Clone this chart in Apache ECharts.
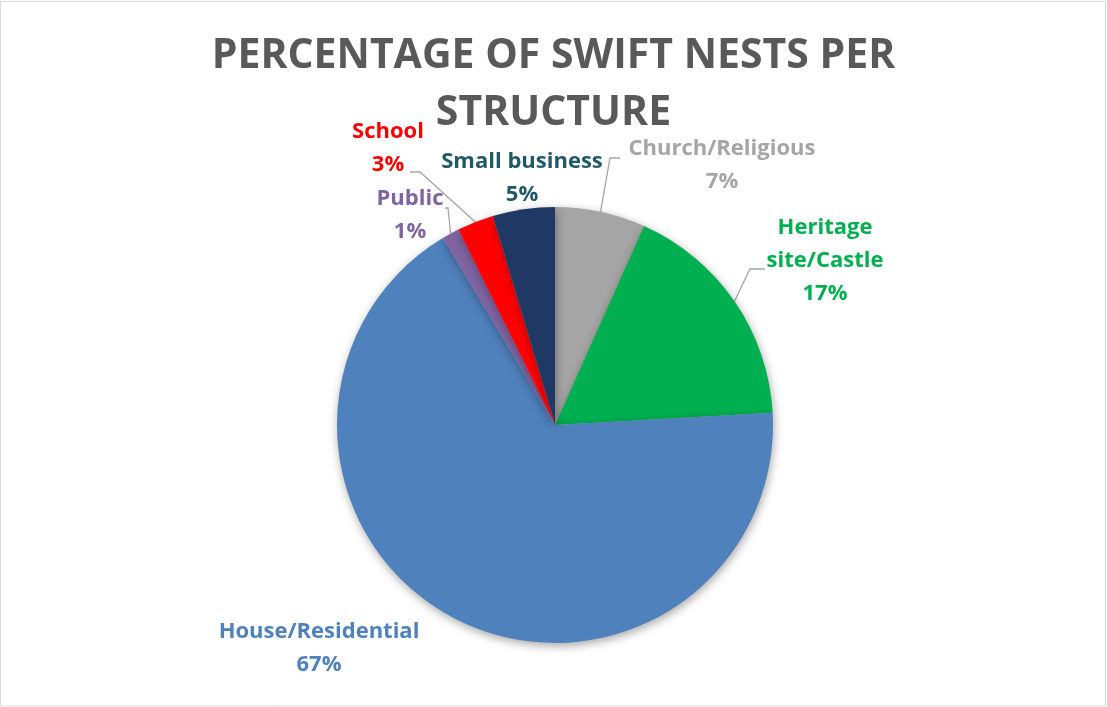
<!DOCTYPE html>
<html>
<head>
<meta charset="utf-8">
<script src="https://cdn.jsdelivr.net/npm/echarts@6/dist/echarts.min.js"></script>
<style>html,body{margin:0;padding:0;background:#fff;}#c{width:1107px;height:707px;}</style>
</head>
<body>
<div id="c"></div>
<script>
const categories = ['Church/Religious', 'Heritage site/Castle', 'House/Residential', 'Public', 'School', 'Small business'];
const values = [6.7, 17.4, 67.3, 1.3, 2.7, 4.6];
const labelTexts = ['Church/Religious\n7%', 'Heritage\nsite/Castle\n17%', 'House/Residential\n67%', 'Public\n1%', 'School\n3%', 'Small business\n5%'];
const colors = ['#A5A5A5', '#00B050', '#4F81BD', '#8064A2', '#FF0000', '#1F3864'];
const labelColors = ['#A5A5A5', '#00B050', '#4F81BD', '#8064A2', '#FF0000', '#215968'];

// label layout (positions of label blocks and leader-line bends)
const labelLayoutCfg = [
  { x: 722, y: 165, line: [[610, 158], [620, 158]] },
  { x: 825, y: 261, line: [[750, 269], [765, 269]] },
  { x: 319, y: 648, line: null },
  { x: 410, y: 215, line: [[448, 208], [445, 208]] },
  { x: 388, y: 148, line: [[420, 172], [410, 172]] },
  { x: 522, y: 178, line: null }
];

const chart = echarts.init(document.getElementById('c'), null, { renderer: 'canvas' });
const FONT = "'Open Sans', sans-serif";

const data = categories.map((name, i) => ({
  name: name,
  value: values[i],
  itemStyle: { color: colors[i] },
  label: { color: labelColors[i], formatter: labelTexts[i] },
  labelLine: { show: labelLayoutCfg[i].line !== null }
}));

chart.setOption({
  backgroundColor: '#ffffff',
  animation: false,
  title: {
    text: 'PERCENTAGE OF SWIFT NESTS PER\nSTRUCTURE',
    left: 'center',
    top: 23,
    textStyle: { fontFamily: FONT, fontWeight: 'bold', fontSize: 41, lineHeight: 57, color: '#595959' }
  },
  graphic: [{
    type: 'rect',
    shape: { x: 0.5, y: 1.5, width: 1105, height: 704.5 },
    style: { fill: 'none', stroke: '#D9D9D9', lineWidth: 1 },
    silent: true, z: -1
  }],
  series: [{
    type: 'pie',
    center: [555, 425],
    radius: 218,
    startAngle: 90,
    clockwise: true,
    data: data,
    itemStyle: {
      borderWidth: 0,
      shadowBlur: 10,
      shadowColor: 'rgba(0,0,0,0.35)',
      shadowOffsetX: 1,
      shadowOffsetY: 3
    },
    label: {
      show: true,
      position: 'outside',
      fontFamily: FONT,
      fontWeight: 'bold',
      fontSize: 22,
      lineHeight: 33,
      align: 'center'
    },
    labelLine: {
      show: true,
      length: 10,
      length2: 10,
      lineStyle: { color: '#A6A6A6', width: 1.3 }
    },
    labelLayout: function (params) {
      const cfg = labelLayoutCfg[params.dataIndex];
      const out = { x: cfg.x, y: cfg.y, align: 'center', verticalAlign: 'middle' };
      if (cfg.line && params.labelLinePoints) {
        out.labelLinePoints = [params.labelLinePoints[0], cfg.line[0], cfg.line[1]];
      }
      return out;
    },
    emphasis: { disabled: true }
  }]
});
</script>
</body>
</html>
